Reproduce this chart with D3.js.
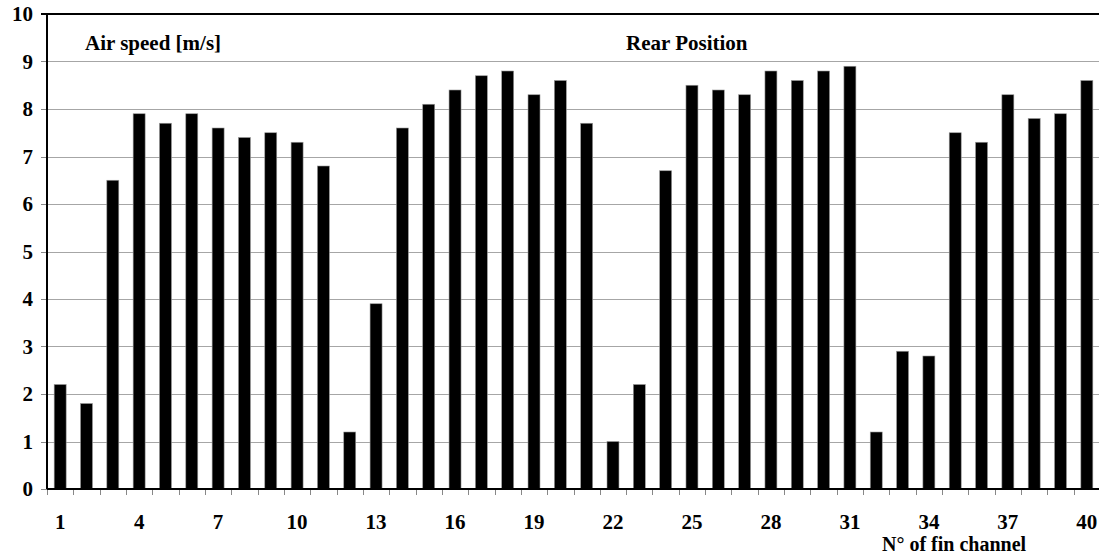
<!DOCTYPE html>
<html>
<head>
<meta charset="utf-8">
<script src="https://cdn.jsdelivr.net/npm/d3@7"></script>
<style>
  body { margin: 0; background: #fff; }
  svg text { font-family: "Liberation Serif", "Times New Roman", serif; font-weight: bold; fill: #000; }
</style>
</head>
<body>
<div id="chart"></div>
<script>
// fin channel numbers and measured air speed (m/s), rear position
const channels = d3.range(1, 41);
const airSpeed = [
  2.2, 1.8, 6.5, 7.9, 7.7, 7.9, 7.6, 7.4, 7.5, 7.3,
  6.8, 1.2, 3.9, 7.6, 8.1, 8.4, 8.7, 8.8, 8.3, 8.6,
  7.7, 1.0, 2.2, 6.7, 8.5, 8.4, 8.3, 8.8, 8.6, 8.8,
  8.9, 1.2, 2.9, 2.8, 7.5, 7.3, 8.3, 7.8, 7.9, 8.6
];
const xLabels = [1, 4, 7, 10, 13, 16, 19, 22, 25, 28, 31, 34, 37, 40];
const yTicks = d3.range(0, 11);

const width = 1099;
const height = 556;
const plotLeft = 47, plotRight = 1100, plotTop = 14, plotBottom = 489;

const svg = d3.select("#chart")
  .append("svg")
  .attr("width", width)
  .attr("height", height);

const x = d3.scaleBand()
  .domain(channels)
  .range([plotLeft, plotRight])
  .paddingInner(0.545)
  .paddingOuter(0.2725);

// category edges for the tick marks
const xEdge = d3.scaleLinear()
  .domain([0, channels.length])
  .range([plotLeft, plotRight]);

const y = d3.scaleLinear()
  .domain([0, 10])
  .range([plotBottom, plotTop]);

// gridlines
svg.selectAll(".grid")
  .data(yTicks.filter(d => d > 0 && d < 10))
  .enter()
  .append("line")
  .attr("x1", plotLeft)
  .attr("x2", width)
  .attr("y1", d => Math.round(y(d)) + 0.5)
  .attr("y2", d => Math.round(y(d)) + 0.5)
  .attr("stroke", "#a6a6a6")
  .attr("stroke-width", 1);

// y tick marks
svg.selectAll(".ytick")
  .data(yTicks)
  .enter()
  .append("line")
  .attr("x1", plotLeft - 6)
  .attr("x2", plotLeft)
  .attr("y1", d => Math.round(y(d)) + 0.5)
  .attr("y2", d => Math.round(y(d)) + 0.5)
  .attr("stroke", "#888");

// bars
svg.selectAll(".bar")
  .data(airSpeed)
  .enter()
  .append("rect")
  .attr("x", (d, i) => x(channels[i]))
  .attr("width", x.bandwidth())
  .attr("y", d => y(d))
  .attr("height", d => y(0) - y(d))
  .attr("fill", "#000")
  .attr("stroke", "#999")
  .attr("stroke-width", 0.6);

// top line at 10
svg.append("line")
  .attr("x1", plotLeft - 6)
  .attr("x2", width)
  .attr("y1", y(10))
  .attr("y2", y(10))
  .attr("stroke", "#000")
  .attr("stroke-width", 2);

// x tick marks
svg.selectAll(".xtick")
  .data(d3.range(0, channels.length + 1))
  .enter()
  .append("line")
  .attr("x1", d => Math.round(xEdge(d)) + 0.5)
  .attr("x2", d => Math.round(xEdge(d)) + 0.5)
  .attr("y1", plotBottom)
  .attr("y2", plotBottom + 6)
  .attr("stroke", "#888");

// axes lines
svg.append("line")
  .attr("x1", plotLeft).attr("x2", plotLeft)
  .attr("y1", plotTop).attr("y2", plotBottom)
  .attr("stroke", "#000").attr("stroke-width", 2);

svg.append("line")
  .attr("x1", plotLeft).attr("x2", width)
  .attr("y1", plotBottom).attr("y2", plotBottom)
  .attr("stroke", "#000").attr("stroke-width", 2);

// y labels
svg.selectAll(".ylab")
  .data(yTicks)
  .enter()
  .append("text")
  .attr("x", 33)
  .attr("y", d => y(d))
  .attr("dy", "0.35em")
  .attr("text-anchor", "end")
  .style("font-size", "21px")
  .text(d => d);

// x labels
svg.selectAll(".xlab")
  .data(xLabels)
  .enter()
  .append("text")
  .attr("x", d => x(d) + x.bandwidth() / 2)
  .attr("y", 529)
  .attr("text-anchor", "middle")
  .style("font-size", "21px")
  .text(d => d);

svg.append("text")
  .attr("x", 954)
  .attr("y", 551)
  .attr("text-anchor", "middle")
  .style("font-size", "20px")
  .text("N° of fin channel");

svg.append("text")
  .attr("x", 85)
  .attr("y", 50)
  .style("font-size", "21px")
  .text("Air speed [m/s]");

svg.append("text")
  .attr("x", 626)
  .attr("y", 50)
  .style("font-size", "21px")
  .text("Rear Position");
</script>
</body>
</html>
